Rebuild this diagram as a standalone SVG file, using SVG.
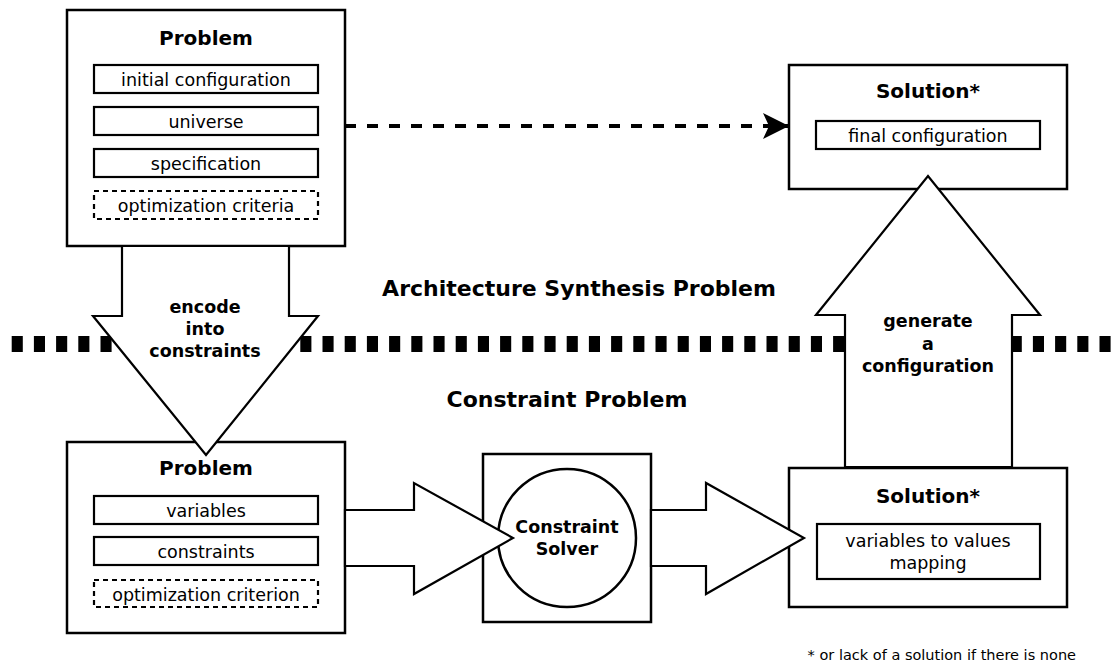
<svg xmlns="http://www.w3.org/2000/svg" width="1112" height="666" viewBox="0 0 1112 666">
  <style>
    .box { fill: #fff; stroke: #000; stroke-width: 2.5; }
    .item { fill: none; stroke: #000; stroke-width: 2.2; }
    .opt { fill: none; stroke: #000; stroke-width: 2.2; stroke-dasharray: 5 4; }
    .big-arrow { fill: #fff; stroke: #000; stroke-width: 2.2; stroke-linejoin: miter; }
    text { font-family: "DejaVu Sans", "Liberation Sans", sans-serif; fill: #000; text-anchor: middle; }
    .title { font-size: 20px; font-weight: bold; }
    .label { font-size: 17.5px; }
    .blabel { font-size: 17.5px; font-weight: bold; }
    .section { font-size: 22px; font-weight: bold; }
    .note { font-size: 14.5px; text-anchor: end; }
  </style>
  <defs>
    <marker id="head" markerUnits="userSpaceOnUse" viewBox="0 0 26 26" refX="26" refY="13" markerWidth="26" markerHeight="26" orient="auto">
      <path d="M0,0 L26,13 L0,26 L6,13 Z" fill="#000"/>
    </marker>
  </defs>

  <!-- level separator -->
  <line x1="11.7" y1="344" x2="1112" y2="344" stroke="#000" stroke-width="16" stroke-dasharray="11.1 11.1"/>
  <text class="section" x="579" y="296">Architecture Synthesis Problem</text>
  <text class="section" x="567" y="407">Constraint Problem</text>

  <!-- architecture problem -->
  <g id="arch-problem">
    <rect class="box" x="67" y="10" width="278" height="236"/>
    <text class="title" x="206" y="45">Problem</text>
    <rect class="item" x="94" y="65" width="224" height="28"/>
    <text class="label" x="206" y="86">initial configuration</text>
    <rect class="item" x="94" y="107" width="224" height="28"/>
    <text class="label" x="206" y="128">universe</text>
    <rect class="item" x="94" y="149" width="224" height="28"/>
    <text class="label" x="206" y="170">specification</text>
    <rect class="opt" x="94" y="191" width="224" height="28"/>
    <text class="label" x="206" y="212">optimization criteria</text>
  </g>

  <!-- architecture solution -->
  <g id="arch-solution">
    <rect class="box" x="789" y="65" width="278" height="124"/>
    <text class="title" x="928" y="98">Solution*</text>
    <rect class="item" x="816" y="121" width="224" height="28"/>
    <text class="label" x="928" y="142">final configuration</text>
  </g>

  <!-- constraint problem -->
  <g id="csp-problem">
    <rect class="box" x="67" y="442" width="278" height="191"/>
    <text class="title" x="206" y="475">Problem</text>
    <rect class="item" x="94" y="496" width="224" height="28"/>
    <text class="label" x="206" y="517">variables</text>
    <rect class="item" x="94" y="537" width="224" height="28"/>
    <text class="label" x="206" y="558">constraints</text>
    <rect class="opt" x="94" y="580" width="224" height="27"/>
    <text class="label" x="206" y="601">optimization criterion</text>
  </g>

  <!-- solver -->
  <g id="solver">
    <rect class="box" x="483" y="454" width="168" height="168"/>
    <circle class="box" cx="567" cy="538" r="69"/>
  </g>

  <!-- constraint solution -->
  <g id="csp-solution">
    <rect class="box" x="789" y="468" width="278" height="139"/>
    <text class="title" x="928" y="503">Solution*</text>
    <rect class="item" x="817" y="524" width="223" height="55"/>
    <text class="label" x="928" y="547">variables to values</text>
    <text class="label" x="928" y="569">mapping</text>
  </g>

  <!-- connectors -->
  <g id="connectors">
    <line x1="345" y1="126" x2="789" y2="126" stroke="#000" stroke-width="4" stroke-dasharray="11 11" marker-end="url(#head)"/>
    <polygon class="big-arrow" points="122,246 289,246 289,316 318,316 206,455 93,316 122,316"/>
    <polygon class="big-arrow" points="845,467 845,315 816,315 928,176 1040,315 1012,315 1012,467"/>
    <polygon class="big-arrow" points="345,510 414,510 414,483 513,538 414,594 414,566 345,566"/>
    <polygon class="big-arrow" points="651,510 706,510 706,483 804,538 706,594 706,566 651,566"/>
  </g>

  <!-- connector labels -->
  <text class="blabel" x="205" y="313">encode</text>
  <text class="blabel" x="205" y="335">into</text>
  <text class="blabel" x="205" y="357">constraints</text>
  <text class="blabel" x="928" y="327">generate</text>
  <text class="blabel" x="928" y="350">a</text>
  <text class="blabel" x="928" y="372">configuration</text>
  <text class="blabel" x="567" y="533">Constraint</text>
  <text class="blabel" x="567" y="555">Solver</text>

  <text class="note" x="1076" y="660">* or lack of a solution if there is none</text>
</svg>
